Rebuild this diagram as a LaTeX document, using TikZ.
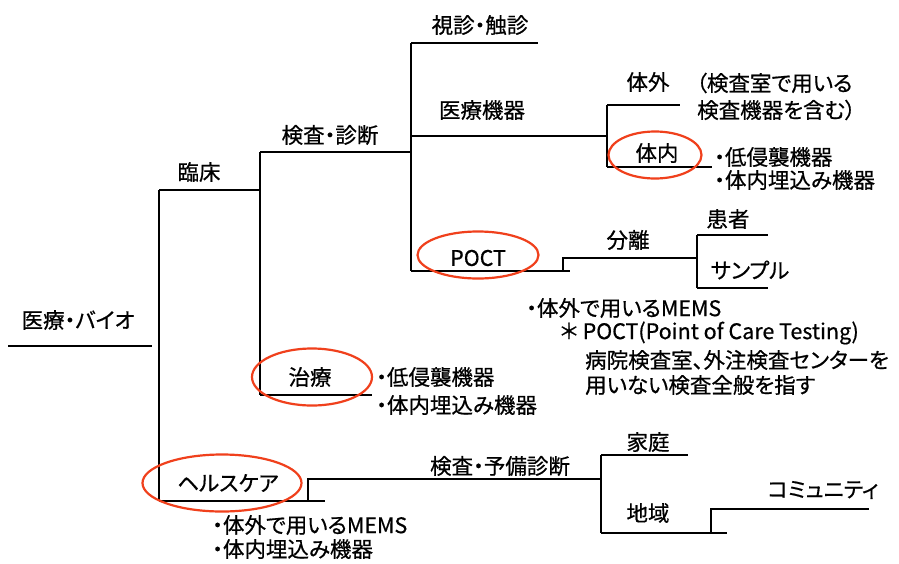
\documentclass[tikz,border=0pt]{standalone}
\usepackage{fontspec}
\newfontfamily\jp[RawFeature=+palt,FakeBold=0.6]{Noto Sans CJK JP}
\usetikzlibrary{shapes.geometric}
\definecolor{circred}{RGB}{240,64,28}
\begin{document}
\begin{tikzpicture}[x=1pt,y=-1pt,
  lbl/.style={inner sep=0pt, font=\jp\fontsize{21.5}{25}\selectfont},
  lft/.style={lbl, anchor=west},
  br/.style={line width=2.8pt, line join=miter},
  ring/.style={draw=circred, line width=2.2pt, ellipse, inner sep=0pt}]
\useasboundingbox[fill=white] (0,0) rectangle (899,563);
% --- coordinates of the tree
\coordinate (r0) at (8,346);   \coordinate (r1) at (152,346);
\coordinate (v1t) at (159,190); \coordinate (v1b) at (159,501);
\coordinate (rin) at (260,190);
\coordinate (v2t) at (260,152); \coordinate (v2b) at (260,395);
\coordinate (chiryoE) at (372,395);
\coordinate (v3t) at (411,43);  \coordinate (v3b) at (411,271);
\coordinate (shinE) at (538,43);
\coordinate (kikiE) at (607,136);
\coordinate (v4t) at (607,105); \coordinate (v4b) at (607,167);
\coordinate (taigaiE) at (680,105);
\coordinate (tainaiE) at (712,167);
\coordinate (poctE) at (570,271);
\coordinate (poctS) at (563,271);
\coordinate (v5t) at (697,235); \coordinate (v5b) at (697,288);
\coordinate (kanjaE) at (768,235);
\coordinate (sampE) at (768,288);
\coordinate (hcE) at (325,501);
\coordinate (hcS) at (308,501);
\coordinate (v6t) at (601,455); \coordinate (v6b) at (601,533);
\coordinate (kateiE) at (688,455);
\coordinate (chiikiE) at (727,533);
\coordinate (chiikiS) at (711,533);
\coordinate (commE) at (869,509);
% --- connectors
\draw[br] (r0) -- (r1);
\draw[br] (v1t) -- (v1b);
\draw[br] (v1t) -- (rin);
\draw[br] (v2t) -- (v2b);
\draw[br] (v2t) -- (v3t |- v2t);
\draw[br] (v2b) -- (chiryoE);
\draw[br] (v3t) -- (v3b);
\draw[br] (v3t) -- (shinE);
\draw[br] (v3t |- kikiE) -- (kikiE);
\draw[br] (v3b) -- (poctE);
\draw[br] (poctS) |- (v5t |- 0,258);
\draw[br] (v4t) -- (v4b);
\draw[br] (v4t) -- (taigaiE);
\draw[br] (v4b) -- (tainaiE);
\draw[br] (v5t) -- (v5b);
\draw[br] (v5t) -- (kanjaE);
\draw[br] (v5b) -- (sampE);
\draw[br] (v1b) -- (hcE);
\draw[br] (hcS) |- (v6t |- 0,479);
\draw[br] (v6t) -- (v6b);
\draw[br] (v6t) -- (kateiE);
\draw[br] (v6b) -- (chiikiE);
\draw[br] (chiikiS) |- (commE);
% --- labels
\node[lbl] (t0) at (78,320) {医療・バイオ};
\node[lbl] (t1) at (199,172) {臨床};
\node[lbl] (t2) at (330,135) {検査・診断};
\node[lbl] (t3) at (310,377) {治療};
\node[lbl] (t4) at (480,25) {視診・触診};
\node[lbl] (t5) at (482,110) {医療機器};
\node[lbl] (t6) at (478,258) {POCT};
\node[lbl] (t7) at (648,82) {体外};
\node[lbl] (t8) at (657,153) {体内};
\node[lft] (t9) at (696,83) {（検査室で用いる};
\node[lft] (t10) at (697,110) {検査機器を含む）};
\node[lft] (t11) at (714,157) {・低侵襲機器};
\node[lft] (t12) at (714,180) {・体内埋込み機器};
\node[lbl] (t13) at (628,240) {分離};
\node[lbl] (t14) at (728,219) {患者};
\node[lbl] (t15) at (750,270) {サンプル};
\node[lft] (t16) at (526,308) {・体外で用いるMEMS};
\node[lft] (t17) at (560,333) {＊ POCT(Point of Care Testing)};
\node[lft] (t18) at (585,360) {病院検査室、外注検査センターを};
\node[lft] (t19) at (585,385) {用いない検査全般を指す};
\node[lft] (t20) at (376,377) {・低侵襲機器};
\node[lft] (t21) at (376,405) {・体内埋込み機器};
\node[lbl] (t22) at (228,483) {ヘルスケア};
\node[lft] (t23) at (212,525) {・体外で用いるMEMS};
\node[lft] (t24) at (212,549) {・体内埋込み機器};
\node[lbl] (t25) at (500,466) {検査・予備診断};
\node[lbl] (t26) at (648,442) {家庭};
\node[lbl] (t27) at (648,513) {地域};
\node[lbl] (t28) at (823,490) {コミュニティ};
% --- red rings
\node[ring, minimum width=93pt, minimum height=47pt] (e1) at (655,155) {};
\node[ring, minimum width=121pt, minimum height=47pt] (e2) at (478,255) {};
\node[ring, minimum width=120pt, minimum height=57pt] (e3) at (312,377) {};
\node[ring, minimum width=159pt, minimum height=57pt] (e4) at (222,483) {};
\end{tikzpicture}
\end{document}
